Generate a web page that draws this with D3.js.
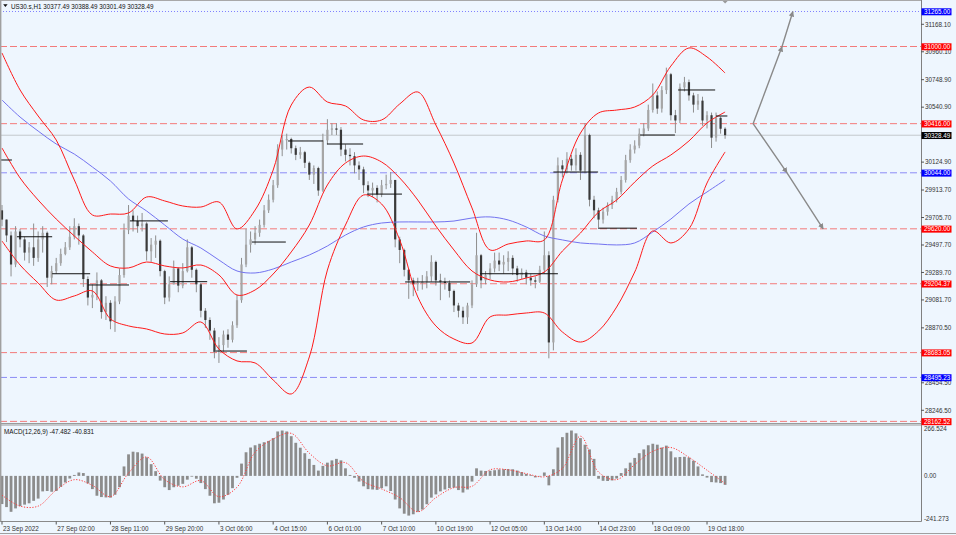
<!DOCTYPE html>
<html><head><meta charset="utf-8">
<script src="https://cdn.jsdelivr.net/npm/d3@7"></script>
<style>html,body{margin:0;padding:0;background:#eef6fe;overflow:hidden}svg{display:block}text{font-family:"Liberation Sans",Arial,sans-serif}</style>
</head><body><svg id="c" width="956" height="535"></svg>
<script>
// ---------- DATA ----------
const headerText = "US30.s,H1  30377.49 30388.49 30301.49 30328.49";
const firstOpen = 29760;
const closes = [29690,29570,29350,29600,29540,29440,29480,29400,29540,29590,
29250,29300,29360,29430,29480,29560,29640,29570,29240,29100,
29120,29230,28990,29060,28920,29070,29270,29610,29720,29680,
29640,29660,29450,29500,29530,29300,29100,29200,29320,29190,
29300,29480,29310,29200,29000,28930,28850,28700,28740,28820,
28780,28890,29080,29350,29500,29540,29590,29650,29760,29840,
29950,30220,30290,30300,30230,30180,30200,30120,30030,30080,
29910,30290,30370,30380,30370,30220,30180,30170,30100,30070,
29950,29910,29930,29880,29950,29960,29990,29540,29460,29310,
29230,29200,29210,29220,29260,29370,29230,29220,29210,29150,
29040,29000,28950,29040,29200,29420,29230,29270,29320,29380,
29350,29370,29400,29320,29270,29290,29250,29230,29220,29310,
29420,28760,29840,30100,30070,30150,30100,30180,30060,30330,
29840,29760,29690,29750,29800,29840,29900,29990,30140,30220,
30250,30340,30380,30520,30630,30530,30670,30790,30480,30440,
30690,30730,30630,30560,30590,30440,30480,30310,30460,30377.49,
30328.49];
const highs = [29800,29660,29600,29640,29620,29560,29520,29660,29600,29640,
29600,29340,29400,29470,29520,29640,29700,29660,29580,29260,
29200,29290,29240,29110,29080,29110,29320,29660,29800,29760,
29720,29740,29670,29550,29570,29540,29310,29260,29380,29330,
29360,29540,29490,29320,29210,29020,28950,28870,28800,28850,
28860,28920,29120,29400,29620,29600,29640,29690,29800,29880,
29990,30260,30330,30340,30310,30250,30240,30210,30130,30100,
30090,30340,30450,30420,30420,30390,30260,30230,30200,30130,
30090,29980,29970,29950,29990,30030,30050,29990,29560,29470,
29320,29250,29250,29270,29300,29420,29380,29280,29250,29230,
29160,29060,29030,29060,29230,29590,29430,29300,29360,29440,
29440,29420,29450,29420,29340,29320,29310,29280,29260,29340,
29600,29450,29870,30160,30140,30200,30180,30230,30200,30420,
30340,29870,29780,29780,29820,29870,29930,30020,30180,30260,
30290,30380,30420,30560,30720,30660,30700,30840,30800,30520,
30720,30770,30750,30650,30640,30620,30510,30500,30500,30470,
30388.49];
const lows = [29640,29520,29260,29330,29480,29380,29360,29340,29370,29440,
29180,29200,29280,29340,29420,29460,29540,29500,29180,29040,
29020,29080,28940,28930,28860,28840,29050,29250,29580,29600,
29590,29600,29380,29370,29400,29260,29050,29070,29200,29140,
29170,29290,29250,29140,28950,28870,28780,28640,28605,28690,
28720,28760,28870,29060,29330,29440,29500,29560,29630,29740,
29820,29930,30170,30220,30190,30140,30150,30080,29990,29960,
29870,29900,30260,30330,30330,30170,30130,30100,30040,29990,
29890,29860,29860,29820,29860,29920,29930,29480,29360,29260,
29090,29110,29150,29160,29170,29220,29190,29080,29160,29100,
28990,28950,28900,28900,29020,29180,29170,29200,29240,29290,
29300,29280,29300,29270,29220,29240,29200,29190,29170,29210,
29280,28640,28700,29820,30010,30040,30060,30060,29990,30040,
29790,29700,29630,29660,29720,29770,29820,29880,29970,30120,
30190,30230,30320,30360,30500,30490,30500,30640,30440,30345,
30420,30660,30590,30500,30520,30400,30380,30232,30280,30340,
30301.49];

// indicator lines sampled every 4 bars
const bandStep = 4;
const bbUpper = [30951,30671,30474,30292,29990,29725,29732,29740,29861,29831,
29793,29785,29823,29619,29762,30065,30557,30693,30580,30550,
30444,30444,30565,30656,30406,30118,29778,29460,29505,29528,
29536,29990,30345,30497,30519,30542,30633,30852,30989,30921,30799];
const bbMiddle = [30232,30005,29838,29694,29566,29445,29339,29324,29369,29339,
29324,29346,29271,29119,29157,29278,29445,29649,29952,30118,
30171,30126,30005,29838,29641,29460,29301,29233,29218,29248,
29293,29452,29588,29747,29838,29974,30096,30179,30285,30421,30504];
const bbLower = [29528,29346,29210,29081,29112,29150,28938,28885,28862,28824,
28832,28915,28710,28620,28605,28476,28370,28650,29308,29649,
29876,29808,29536,29104,28885,28786,28756,28953,28968,28983,
28983,28839,28763,28847,29028,29293,29604,29513,29619,29967,30202];
const maBlue = [30595,30466,30360,30262,30186,30088,29982,29846,29755,29649,
29543,29475,29384,29301,29286,29316,29369,29422,29490,29573,
29634,29664,29672,29672,29672,29679,29702,29710,29687,29634,
29566,29536,29513,29505,29498,29513,29596,29694,29808,29899,29990];

const macdHist = [-149,-165,-190,-172,-160,-152,-145,-132,-120,-82,
-80,-84,-80,-58,-35,-14,5,18,15,-40,
-70,-105,-112,-114,-115,-100,-60,50,114,128,
125,118,98,62,25,-25,-60,-75,-60,-52,
-42,-20,-4,-15,-38,-70,-105,-145,-142,-125,
-100,-65,-10,65,125,150,162,170,178,185,
200,235,240,235,210,175,149,120,90,58,
28,53,70,82,90,82,40,5,-10,-30,
-55,-70,-72,-74,-65,-55,-80,-125,-172,-200,
-210,-203,-190,-178,-150,-115,-98,-82,-72,-65,
-62,-75,-88,-72,-30,40,28,26,27,30,
34,35,36,35,28,20,10,4,-8,-2,
18,-50,35,150,205,228,240,225,200,165,
140,90,-15,-26,-27,-24,-14,15,40,70,
95,120,140,162,170,165,150,160,130,98,
100,101,97,80,50,8,-9,-33,-35,-38,
-47.482];
const macdSignal = [-102,-160,-160,-75,-20,-50,-110,15,100,-20,
-58,-25,-110,-60,125,195,225,120,53,70,
-30,-69,-115,-190,-115,-62,-55,32,32,12,
-5,40,210,20,-20,60,130,150,98,30,-40.831];
const macdMax = 266.524, macdMin = -241.273;
const macdText = "MACD(12,26,9) -47.482 -40.831";

const xTickBars = [0,12,24,36,48,60,72,84,96,108,120,132,144,156];
const xTickLabels = ["23 Sep 2022","27 Sep 02:00","28 Sep 11:00","29 Sep 20:00","3 Oct 06:00","4 Oct 15:00","6 Oct 01:00","7 Oct 10:00","10 Oct 19:00","12 Oct 05:00","13 Oct 14:00","14 Oct 23:00","18 Oct 09:00","19 Oct 18:00"];
// ticks fully hidden behind the price boxes (30332.90, 28662.50) are left out
const priceTicks = [31168.10,30960.10,30748.90,30540.90,30124.90,29913.70,29705.70,29497.70,29289.70,29081.70,28870.50,28454.50,28246.50];

const levelPrices = [31265,31000,30416,30044,29620,29204.37,28683.05,28495.23,28162.52];
const levelKinds  = ["blueDot","red","red","blue","red","red","red","blue","red"];
const lastPrice = 30328.49;

const segStart = [-0.5,3.3,11.1,19.0,28.3,37.2,46.7,55.3,63.3,71.9,80.8,89.2,105.8,122.0,131.9,141.2,149.6,158.0];
const segEnd   = [2.2,11.1,19.5,28.1,36.7,45.4,54.2,62.8,71.0,79.9,88.5,103.6,123.0,131.9,140.5,148.9,157.8,160.5];
const segPrice = [30141,29560,29280,29195,29680,29220,28695,29520,30285,30262,29883,29218,29280,30050,29625,30330,30671,30474];

const arrowUpBars = [166.2,172.6,175.0], arrowUpPrices = [30416,31000,31265];
const arrowDnBars = [166.2,173.7,181.7], arrowDnPrices = [30416,30044,29620];

// ---------- DRAW ----------
const svg = d3.select("#c");
const plotR = 921, mainB = 423, macdT = 425.5, macdB = 521.5;
const x = d3.scaleLinear().domain([0,160]).range([2,725.1]);
const y = d3.scaleLinear().domain([28150.3,31352]).range([mainB,0]);
const ym = d3.scaleLinear().domain([macdMin,macdMax]).range([macdB,macdT]);
const bg = "#eef6fe";
const fs = 6.3;

svg.append("rect").attr("width",956).attr("height",535).attr("fill",bg);

const main = svg.append("g");
const defs = svg.append("defs");
defs.append("clipPath").attr("id","mc").append("rect").attr("x",0).attr("y",0).attr("width",plotR).attr("height",mainB);
defs.append("marker").attr("id","ah").attr("viewBox","0 0 10 10").attr("refX",9).attr("refY",5)
  .attr("markerWidth",4).attr("markerHeight",4).attr("orient","auto")
  .append("path").attr("d","M0,0L10,5L0,10z").attr("fill","#8a8a8a");

const g = main.append("g").attr("clip-path","url(#mc)");

// horizontal price levels
const levelStyle = {
  red:{c:"#f37b7b",d:"7,3"}, blue:{c:"#8c8cf5",d:"7,3"}, blueDot:{c:"#8080ff",d:"1,2"}
};
levelPrices.forEach((p,k)=>{
  const s = levelStyle[levelKinds[k]];
  g.append("line").attr("x1",0).attr("x2",plotR).attr("y1",y(p)).attr("y2",y(p))
   .attr("stroke",s.c).attr("stroke-width",1).attr("stroke-dasharray",s.d);
});
g.append("line").attr("x1",0).attr("x2",plotR).attr("y1",y(lastPrice)).attr("y2",y(lastPrice))
  .attr("stroke","#c4c8cc").attr("stroke-width",1);

// candles
const bars = closes.map((c,i)=>{const o=i?closes[i-1]:firstOpen;return {i,o,c,h:Math.max(highs[i],o,c),l:Math.min(lows[i],o,c)};});
g.selectAll(".wick").data(bars).join("line").attr("x1",d=>x(d.i)).attr("x2",d=>x(d.i))
  .attr("y1",d=>y(d.h)).attr("y2",d=>y(d.l)).attr("stroke","#8e8e8e").attr("stroke-width",1);
g.selectAll(".body").data(bars).join("rect")
  .attr("x",d=>x(d.i)-1.1).attr("width",2.2)
  .attr("y",d=>y(Math.max(d.o,d.c))).attr("height",d=>Math.max(0.8,Math.abs(y(d.o)-y(d.c))))
  .attr("fill",d=>d.c>=d.o?"#a6a6a6":"#3a3a3a");

// indicator lines
const ln = d3.line().x((d,k)=>x(k*bandStep)).y(d=>y(d)).curve(d3.curveCatmullRom.alpha(0.5));
g.append("path").attr("d",ln(maBlue)).attr("fill","none").attr("stroke","#7373f0").attr("stroke-width",1);
[bbUpper,bbMiddle,bbLower].forEach(a=>g.append("path").attr("d",ln(a)).attr("fill","none").attr("stroke","#ff1a1a").attr("stroke-width",1));

// level segments
segPrice.forEach((p,k)=>{
  g.append("line").attr("x1",x(segStart[k])).attr("x2",x(segEnd[k])).attr("y1",y(p)).attr("y2",y(p))
   .attr("stroke","#111").attr("stroke-width",1);
});

// arrows
const al = d3.line().x(d=>x(d[0])).y(d=>y(d[1]));
[[arrowUpBars,arrowUpPrices],[arrowDnBars,arrowDnPrices]].forEach(([b,p])=>{
  g.append("path").attr("d",al(b.map((v,k)=>[v,p[k]]))).attr("fill","none")
   .attr("stroke","#8a8a8a").attr("stroke-width",1.4)
   .attr("marker-mid","url(#ah)").attr("marker-end","url(#ah)");
});

// chart shift marker
main.append("path").attr("d",`M${x(160)-3},0.5L${x(160)+3},0.5L${x(160)},3.5z`).attr("fill","#9a9a9a");

// header
main.append("path").attr("d","M3.2,4.2L7.6,4.2L5.4,7z").attr("fill","#111");
main.append("text").attr("x",11).attr("y",8.6).attr("font-size",fs).attr("fill","#111").text(headerText);

// MACD
const mg = svg.append("g");
mg.selectAll("rect").data(macdHist).join("rect")
  .attr("x",(d,i)=>x(i)-1.4).attr("width",2.8)
  .attr("y",d=>Math.min(ym(0),ym(d))).attr("height",d=>Math.max(0.6,Math.abs(ym(d)-ym(0))))
  .attr("fill","#8c8c8c");
mg.append("path").attr("d",d3.line().x((d,k)=>x(k*bandStep)).y(d=>ym(d)).curve(d3.curveCatmullRom.alpha(0.5))(macdSignal))
  .attr("fill","none").attr("stroke","#ff3b3b").attr("stroke-width",1).attr("stroke-dasharray","1.2,1.6");
mg.append("text").attr("x",4).attr("y",434).attr("font-size",fs).attr("fill","#111").text(macdText);

// frames
svg.append("line").attr("x1",0).attr("x2",plotR).attr("y1",0.5).attr("y2",0.5).attr("stroke","#a8a8a8");
svg.append("line").attr("x1",0).attr("x2",plotR+0.5).attr("y1",mainB+0.5).attr("y2",mainB+0.5).attr("stroke","#9a9a9a");
svg.append("line").attr("x1",0).attr("x2",plotR+0.5).attr("y1",macdT-0.5).attr("y2",macdT-0.5).attr("stroke","#9a9a9a");
svg.append("line").attr("x1",0).attr("x2",plotR+0.5).attr("y1",macdB).attr("y2",macdB).attr("stroke","#8a8a8a");
svg.append("line").attr("x1",plotR+0.5).attr("x2",plotR+0.5).attr("y1",0).attr("y2",macdB).attr("stroke","#808080");
svg.append("line").attr("x1",0.7).attr("x2",0.7).attr("y1",0).attr("y2",macdB).attr("stroke","#a0a0a0").attr("stroke-width",1.4);
svg.append("line").attr("x1",0).attr("x2",956).attr("y1",533.5).attr("y2",533.5).attr("stroke","#a0a0a0");

// price axis
const ax = svg.append("g");
priceTicks.forEach(v=>{
  ax.append("line").attr("x1",plotR).attr("x2",plotR+3).attr("y1",y(v)).attr("y2",y(v)).attr("stroke","#555");
  ax.append("text").attr("x",925).attr("y",y(v)+2.3).attr("font-size",fs).attr("fill","#333").text(v.toFixed(2));
});
const boxCol = {red:"#ff0000",blue:"#0000ff",blueDot:"#0000ff"};
const boxes = levelPrices.map((p,k)=>({p,c:boxCol[levelKinds[k]]})).concat([{p:lastPrice,c:"#000000"}]);
boxes.forEach(b=>{
  ax.append("rect").attr("x",plotR+0.5).attr("y",y(b.p)-3.2).attr("width",30).attr("height",7).attr("fill",b.c);
  ax.append("text").attr("x",924).attr("y",y(b.p)+2.4).attr("font-size",fs).attr("fill","#fff").text(b.p.toFixed(2));
});

// MACD axis
[[macdMax,5],[0,2.3],[macdMin,-1]].forEach(([v,o])=>{
  ax.append("text").attr("x",924).attr("y",ym(v)+o).attr("font-size",fs).attr("fill","#333")
    .text(v===0?"0.00":String(v));
});

// time axis
xTickBars.forEach((b,k)=>{
  ax.append("line").attr("x1",x(b)).attr("x2",x(b)).attr("y1",macdB).attr("y2",macdB+3).attr("stroke","#555");
  ax.append("text").attr("x",x(b)+1).attr("y",530.5).attr("font-size",fs).attr("fill","#333").text(xTickLabels[k]);
});
</script></body></html>
